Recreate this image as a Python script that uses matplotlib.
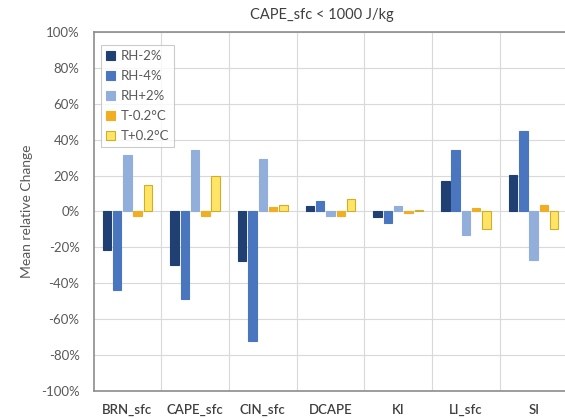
import matplotlib.pyplot as plt
import numpy as np

plt.rcParams['font.family'] = ['Lato', 'DejaVu Sans']

categories = ['BRN_sfc', 'CAPE_sfc', 'CIN_sfc', 'DCAPE', 'KI', 'LI_sfc', 'SI']
series = ['RH-2%', 'RH-4%', 'RH+2%', 'T-0.2°C', 'T+0.2°C']

rh_m2 = [-21.4, -29.8, -27.4, 3.0, -3.2, 16.8, 20.5]
rh_m4 = [-43.5, -49.0, -72.0, 6.0, -6.3, 34.0, 45.0]
rh_p2 = [31.3, 34.0, 29.0, -2.6, 3.0, -13.0, -26.8]
t_m02 = [-2.6, -2.5, 2.4, -2.6, -0.8, 2.1, 3.7]
t_p02 = [14.5, 19.7, 3.7, 7.1, 0.8, -9.7, -9.7]

values = [rh_m2, rh_m4, rh_p2, t_m02, t_p02]
colors = ['#203f73', '#4a76bf', '#92afdb', '#f2ae22', '#ffe466']
edges = ['#203f73', '#4a76bf', '#92afdb', '#f2ae22', '#cfae2a']

text_col = '#595959'

fig = plt.figure(figsize=(5.65, 4.19), dpi=100)
ax = fig.add_axes([93.5 / 565, 1 - 391 / 419, 474 / 565, 359 / 419])

x = np.arange(len(categories))
step = 0.152
width = 0.123
for i, (vals, name) in enumerate(zip(values, series)):
    ax.bar(x + (i - 2) * step, vals, width, color=colors[i], edgecolor=edges[i],
           linewidth=0.8, label=name, zorder=3)

ax.set_xlim(-0.5, len(categories) - 0.5)
ax.set_ylim(-100, 100)
ax.set_yticks(np.arange(-100, 101, 20))
ax.set_yticklabels([f'{v}%' for v in range(-100, 101, 20)])
ax.set_xticks(x)
ax.set_xticklabels(categories, fontweight='semibold', color='#3f3f3f')

# vertical separators between categories
ax.set_xticks(np.arange(0.5, len(categories) - 0.5, 1), minor=True)
ax.grid(axis='y', which='major', color='#d9d9d9', linewidth=0.8, zorder=0)
ax.grid(axis='x', which='minor', color='#d9d9d9', linewidth=0.8, zorder=0)
ax.tick_params(axis='both', which='both', length=0, labelsize=9.5)
ax.tick_params(axis='y', colors=text_col, pad=10)
ax.tick_params(axis='x', pad=9)

for s in ['top', 'left', 'bottom']:
    ax.spines[s].set_color('#8c8c8c')
    ax.spines[s].set_linewidth(1.2)
ax.spines['right'].set_visible(False)

ax.set_ylabel('Mean relative Change', color=text_col, fontsize=10, labelpad=6)
fig.text(322 / 565, 1 - 15 / 419, 'CAPE_sfc < 1000 J/kg', ha='center', va='center',
         color='#3f3f3f', fontsize=10.5)

leg = ax.legend(loc='upper left', bbox_to_anchor=(7 / 474, 1 - 13 / 359), frameon=True,
                fancybox=False, edgecolor='#bfbfbf', fontsize=9.5, labelcolor=text_col,
                handlelength=0.7, handleheight=0.7, handletextpad=0.4,
                labelspacing=0.6, borderpad=0.4, borderaxespad=0)
leg.get_frame().set_linewidth(0.8)

fig.savefig('out.png', dpi=100)
